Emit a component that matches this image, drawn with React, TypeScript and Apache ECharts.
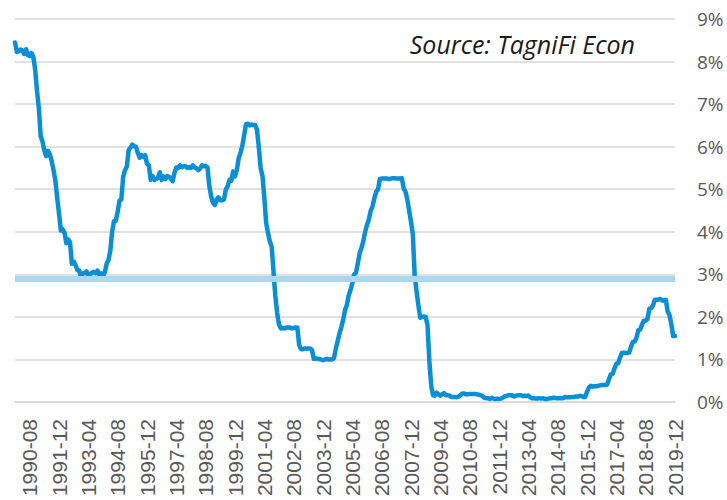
import React, { useEffect, useRef } from "react";
import * as echarts from "echarts";

// Monthly effective fed funds rate (%), 1989-12 .. 2019-12
const y1989 = [8.45];
const y1990 = [8.23, 8.24, 8.28, 8.26, 8.18, 8.29, 8.15, 8.13, 8.2, 8.11, 7.81, 7.31];
const y1991 = [6.91, 6.25, 6.12, 5.91, 5.78, 5.9, 5.82, 5.66, 5.45, 5.21, 4.81, 4.43];
const y1992 = [4.03, 4.06, 3.98, 3.73, 3.82, 3.76, 3.25, 3.3, 3.22, 3.1, 3.09, 2.92];
const y1993 = [3.02, 3.03, 3.07, 2.96, 3.0, 3.04, 3.06, 3.03, 3.09, 2.99, 3.02, 2.96];
const y1994 = [3.05, 3.25, 3.34, 3.56, 4.01, 4.25, 4.26, 4.47, 4.73, 4.76, 5.29, 5.45];
const y1995 = [5.53, 5.92, 5.98, 6.05, 6.01, 6.0, 5.85, 5.74, 5.8, 5.76, 5.8, 5.6];
const y1996 = [5.56, 5.22, 5.31, 5.22, 5.24, 5.27, 5.4, 5.22, 5.3, 5.24, 5.31, 5.29];
const y1997 = [5.25, 5.19, 5.39, 5.51, 5.5, 5.56, 5.52, 5.54, 5.54, 5.5, 5.52, 5.5];
const y1998 = [5.56, 5.51, 5.49, 5.45, 5.49, 5.56, 5.54, 5.55, 5.51, 5.07, 4.83, 4.68];
const y1999 = [4.63, 4.76, 4.81, 4.74, 4.74, 4.76, 4.99, 5.07, 5.22, 5.2, 5.42, 5.3];
const y2000 = [5.45, 5.73, 5.85, 6.02, 6.27, 6.53, 6.54, 6.5, 6.52, 6.51, 6.51, 6.4];
const y2001 = [5.98, 5.49, 5.31, 4.8, 4.21, 3.97, 3.77, 3.65, 3.07, 2.49, 2.09, 1.82];
const y2002 = [1.73, 1.74, 1.73, 1.75, 1.75, 1.75, 1.73, 1.74, 1.75, 1.75, 1.34, 1.24];
const y2003 = [1.24, 1.26, 1.25, 1.26, 1.26, 1.22, 1.01, 1.03, 1.01, 1.01, 1.0, 0.98];
const y2004 = [1.0, 1.01, 1.0, 1.0, 1.0, 1.03, 1.26, 1.43, 1.61, 1.76, 1.93, 2.16];
const y2005 = [2.28, 2.5, 2.63, 2.79, 3.0, 3.04, 3.26, 3.5, 3.62, 3.78, 4.0, 4.16];
const y2006 = [4.29, 4.49, 4.59, 4.79, 4.94, 4.99, 5.24, 5.25, 5.25, 5.25, 5.25, 5.24];
const y2007 = [5.25, 5.26, 5.26, 5.25, 5.25, 5.25, 5.26, 5.02, 4.94, 4.76, 4.49, 4.24];
const y2008 = [3.94, 2.98, 2.61, 2.28, 1.98, 2.0, 2.01, 2.0, 1.81, 0.97, 0.39, 0.16];
const y2009 = [0.15, 0.22, 0.18, 0.15, 0.18, 0.21, 0.16, 0.16, 0.15, 0.12, 0.12, 0.12];
const y2010 = [0.11, 0.13, 0.16, 0.2, 0.2, 0.18, 0.18, 0.19, 0.19, 0.19, 0.19, 0.18];
const y2011 = [0.17, 0.16, 0.14, 0.1, 0.09, 0.09, 0.07, 0.1, 0.08, 0.07, 0.08, 0.07];
const y2012 = [0.08, 0.1, 0.13, 0.14, 0.16, 0.16, 0.16, 0.13, 0.14, 0.16, 0.16, 0.16];
const y2013 = [0.14, 0.15, 0.14, 0.15, 0.11, 0.09, 0.09, 0.08, 0.08, 0.09, 0.08, 0.09];
const y2014 = [0.07, 0.07, 0.08, 0.09, 0.09, 0.1, 0.09, 0.09, 0.09, 0.09, 0.09, 0.12];
const y2015 = [0.11, 0.11, 0.11, 0.12, 0.12, 0.13, 0.13, 0.14, 0.14, 0.12, 0.12, 0.24];
const y2016 = [0.34, 0.38, 0.36, 0.37, 0.37, 0.38, 0.39, 0.4, 0.4, 0.4, 0.41, 0.54];
const y2017 = [0.65, 0.66, 0.79, 0.9, 0.91, 1.04, 1.15, 1.16, 1.15, 1.15, 1.16, 1.3];
const y2018 = [1.41, 1.42, 1.51, 1.69, 1.7, 1.82, 1.91, 1.91, 1.95, 2.19, 2.2, 2.27];
const y2019 = [2.4, 2.4, 2.41, 2.42, 2.39, 2.38, 2.4, 2.13, 2.04, 1.83, 1.55, 1.55];

const rates: number[] = [
  ...y1989, ...y1990, ...y1991, ...y1992, ...y1993, ...y1994, ...y1995, ...y1996,
  ...y1997, ...y1998, ...y1999, ...y2000, ...y2001, ...y2002, ...y2003, ...y2004,
  ...y2005, ...y2006, ...y2007, ...y2008, ...y2009, ...y2010, ...y2011, ...y2012,
  ...y2013, ...y2014, ...y2015, ...y2016, ...y2017, ...y2018, ...y2019,
];

// Month categories 1989-12 .. 2019-12
const startYear = 1989;
const startMonth = 12;
const months: string[] = rates.map((_, i) => {
  const m0 = startMonth - 1 + i;
  const y = startYear + Math.floor(m0 / 12);
  const m = (m0 % 12) + 1;
  return `${y}-${m < 10 ? "0" + m : m}`;
});

const firstLabelIndex = 8; // 1990-08
const labelStep = 16;
const referenceLevel = 2.9;
const sourceText = "Source: TagniFi Econ";

export default function App() {
  const ref = useRef<HTMLDivElement>(null);
  useEffect(() => {
    if (!ref.current) return;
    const chart = echarts.init(ref.current, null, { renderer: "svg" });
    chart.setOption({
      animation: false,
      backgroundColor: "#ffffff",
      grid: { left: 15, right: 52, top: 19, bottom: 98, containLabel: false },
      xAxis: {
        type: "category",
        data: months,
        boundaryGap: false,
        axisLine: { show: true, lineStyle: { color: "#d9d9d9", width: 1.5 } },
        axisTick: { show: false },
        splitLine: { show: false },
        axisLabel: {
          interval: (index: number) =>
            index >= firstLabelIndex && (index - firstLabelIndex) % labelStep === 0,
          rotate: 90,
          margin: 17,
          fontFamily: "Liberation Sans",
          fontSize: 21,
          color: "#595959",
        },
      },
      yAxis: {
        type: "value",
        position: "right",
        min: 0,
        max: 9,
        interval: 1,
        axisLine: { show: false },
        axisTick: { show: false },
        splitLine: { lineStyle: { color: "#d9d9d9", width: 1.5 } },
        axisLabel: {
          formatter: (v: number) => `${v}%`,
          margin: 22,
          fontFamily: "Open Sans",
          fontSize: 19,
          color: "#595959",
        },
      },
      graphic: [
        {
          type: "text",
          right: 92,
          top: 31,
          style: {
            text: sourceText,
            fontFamily: "Open Sans",
            fontStyle: "italic",
            fontSize: 25,
            fill: "#1a1a1a",
          },
        },
      ],
      series: [
        {
          type: "line",
          data: [],
          z: 1,
          silent: true,
          markLine: {
            silent: true,
            symbol: ["none", "none"],
            label: { show: false },
            lineStyle: { color: "#a9d8f0", width: 6, type: "solid" },
            data: [{ yAxis: referenceLevel }],
          },
        },
        {
          type: "line",
          data: rates,
          z: 3,
          showSymbol: false,
          symbol: "none",
          lineStyle: { color: "#0a8fd6", width: 4.5, join: "round", cap: "round" },
        },
      ],
    });
    return () => chart.dispose();
  }, []);
  return <div ref={ref} style={{ width: 727, height: 500, position: "absolute", left: 0, top: 0 }} />;
}
